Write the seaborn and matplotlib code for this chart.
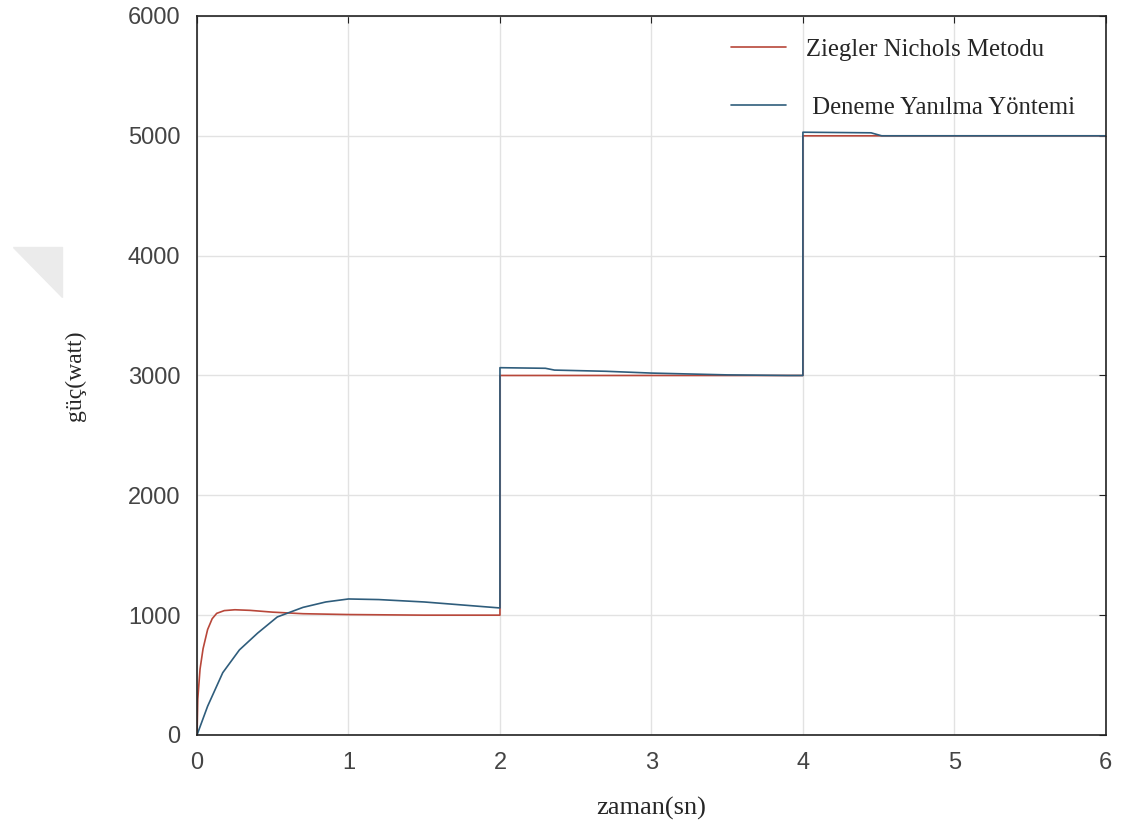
import pandas as pd
import seaborn as sns
import matplotlib.pyplot as plt
from matplotlib.patches import Polygon

# Ziegler Nichols response (red)
zn_t = [0, 0.005, 0.02, 0.04, 0.07, 0.1, 0.13, 0.18, 0.25, 0.35, 0.5, 0.7, 1.0, 1.5, 2.0,
        2.0, 3.0, 4.0, 4.0, 6.0]
zn_p = [0, 300, 550, 720, 880, 970, 1015, 1038, 1045, 1040, 1025, 1012, 1005, 1000, 1000,
        3000, 3000, 3000, 5000, 5000]

# Deneme Yanilma response (blue)
dy_t = [0, 0.07, 0.17, 0.28, 0.4, 0.53, 0.7, 0.85, 1.0, 1.2, 1.5, 1.8, 2.0,
        2.0, 2.3, 2.36, 2.7, 3.0, 3.5, 3.9, 4.0, 4.0, 4.45, 4.52, 6.0]
dy_p = [0, 240, 520, 710, 850, 985, 1065, 1110, 1135, 1130, 1110, 1080, 1060,
        3065, 3060, 3045, 3035, 3020, 3005, 3000, 3000, 5030, 5025, 5000, 5000]

labels = ['Ziegler Nichols Metodu', ' Deneme Yanılma Yöntemi']
colors = ['#b8473a', '#2f5d7c']

df = pd.concat([
    pd.DataFrame({'t': zn_t, 'p': zn_p, 'yontem': labels[0]}),
    pd.DataFrame({'t': dy_t, 'p': dy_p, 'yontem': labels[1]}),
], ignore_index=True)

sns.set_style('white')
fig = plt.figure(figsize=(11.29, 8.32), dpi=100)
ax = fig.add_axes([0.1745, 0.1166, 0.805, 0.8642])

sns.lineplot(data=df, x='t', y='p', hue='yontem', palette=colors, sort=False,
             estimator=None, linewidth=1.2, ax=ax)

ax.set_xlim(0, 6)
ax.set_ylim(0, 6000)
ax.set_xticks(range(0, 7))
ax.set_yticks(range(0, 7000, 1000))
ax.grid(True, color='#e2e2e2', linewidth=1)
for s in ax.spines.values():
    s.set_color('#222222')
    s.set_linewidth(1.2)
ax.tick_params(direction='in', length=5, top=True, right=True, pad=12,
               labelsize=17, labelcolor='#444444', color='#222222')
for lab in ax.get_xticklabels() + ax.get_yticklabels():
    lab.set_family('Liberation Sans')

ax.set_xlabel('zaman(sn)', family='Liberation Serif', fontsize=19, labelpad=17)
ax.set_ylabel('güç(watt)', family='Liberation Serif', fontsize=17, labelpad=30)

leg = ax.legend(loc='upper right', frameon=False, prop={'family': 'Liberation Serif', 'size': 17.8},
                handlelength=2.2, handletextpad=0.8, labelspacing=1.45,
                bbox_to_anchor=(0.99, 1.0))

# faint watermark corner at the left
fig.patches.append(Polygon([(0.0115, 0.703), (0.0549, 0.703), (0.0549, 0.643)],
                           closed=True, transform=fig.transFigure, color='#ebebeb', zorder=0))

fig.savefig('out.png', dpi=100)
